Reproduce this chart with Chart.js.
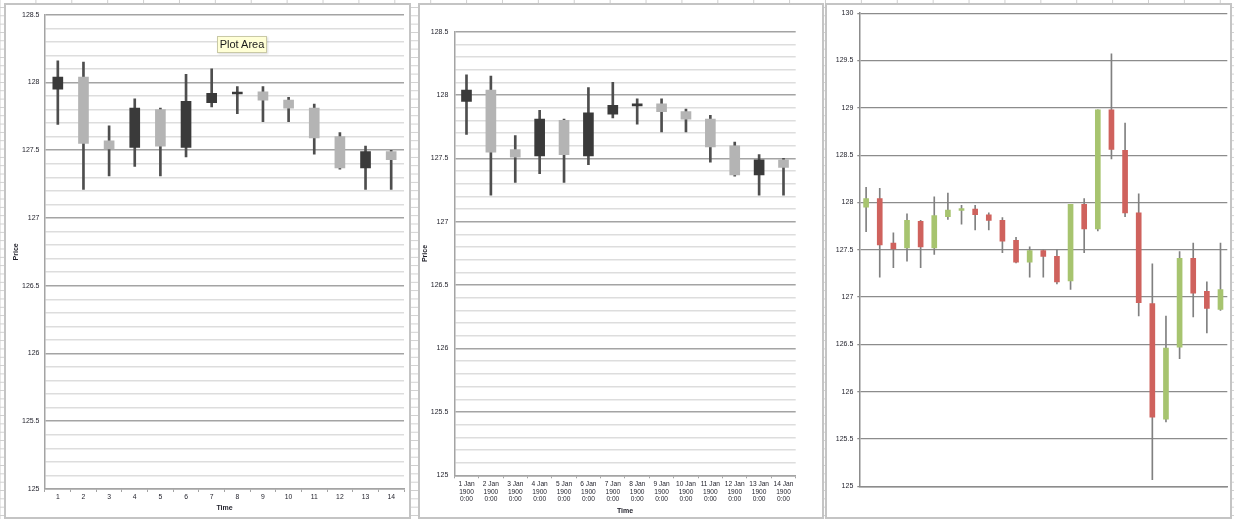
<!DOCTYPE html>
<html><head><meta charset="utf-8">
<script src="https://cdn.jsdelivr.net/npm/chart.js@4.4.1/dist/chart.umd.min.js"></script>
<style>
html,body{margin:0;padding:0;width:1234px;height:519px;overflow:hidden;}
body{background-color:#fff;
 background-image:linear-gradient(to bottom,#cfcfcf 1px,transparent 1px),linear-gradient(to right,#cfcfcf 1px,transparent 1px);
 background-size:100% 8.33px,35.9px 100%;
 background-position:0 7px,35.4px 0;}
.panel{position:absolute;top:3px;height:516px;border:2px solid #c4c4c4;background:#fff;box-sizing:border-box;}
.panel canvas{display:block;}
#tip{position:absolute;left:217px;top:36px;width:50px;height:17px;background:#ffffd6;border:1px solid #c9c9a6;box-sizing:border-box;
 font:11px "Liberation Sans",Arial,sans-serif;color:#1a1a1a;line-height:15px;text-align:center;box-shadow:1px 1px 2px rgba(0,0,0,0.15);}
</style></head>
<body>
<div class="panel" style="left:4px;width:407px;"><canvas id="c1" width="403" height="512"></canvas></div>
<div class="panel" style="left:418px;width:406px;"><canvas id="c2" width="402" height="512"></canvas></div>
<div class="panel" style="left:825px;width:407px;"><canvas id="c3" width="403" height="512"></canvas></div>
<div id="tip">Plot Area</div>
<script>
// ---- data ----
const open  = [127.95,128.04,127.57,127.52,127.80,127.52,127.85,127.915,127.93,127.87,127.81,127.60,127.37,127.49,127.43,127.17,127.98,127.72,128.98,128.55,127.89,126.93,125.71,126.47,127.41,127.06,126.87];
const high  = [128.16,128.15,127.68,127.88,127.81,128.06,128.10,127.97,127.97,127.89,127.84,127.63,127.53,127.50,127.50,127.98,128.04,128.98,129.57,128.84,128.09,127.35,126.80,127.48,127.57,127.16,127.57];
const low   = [127.69,127.21,127.31,127.38,127.31,127.45,127.82,127.77,127.71,127.71,127.47,127.36,127.21,127.21,127.14,127.08,127.47,127.70,128.46,127.85,126.80,125.07,125.68,126.35,126.79,126.62,126.86];
const close = [128.04,127.55,127.51,127.81,127.53,127.86,127.92,127.92,127.87,127.81,127.59,127.37,127.49,127.43,127.16,127.98,127.72,128.98,128.56,127.89,126.94,125.73,126.46,127.41,127.04,126.88,127.08];

const timeLabels = ['1','2','3','4','5','6','7','8','9','10','11','12','13','14'];
const dateLabels = [
 ['1 Jan','1900','0:00'],['2 Jan','1900','0:00'],['3 Jan','1900','0:00'],['4 Jan','1900','0:00'],
 ['5 Jan','1900','0:00'],['6 Jan','1900','0:00'],['7 Jan','1900','0:00'],['8 Jan','1900','0:00'],
 ['9 Jan','1900','0:00'],['10 Jan','1900','0:00'],['11 Jan','1900','0:00'],['12 Jan','1900','0:00'],
 ['13 Jan','1900','0:00'],['14 Jan','1900','0:00']];
const longLabels = ['','','','','','','','','','','','','','','','','','','','','','','','','','',''];

const yMinA = 125, yMaxA = 128.5, yStepA = 0.1, yMajorA = 0.5;
const yMinB = 125, yMaxB = 130, yStepB = 0.5;

// ---- helpers ----
const FONT = '"Liberation Sans", Arial, sans-serif';
const TXT = '#1e1e28';
const isMajor = v => Math.abs(v / yMajorA - Math.round(v / yMajorA)) < 1e-6;
const fmt = v => String(Math.round(v * 10) / 10);

function candleSets(n, st) {
  const o = open.slice(0, n), c = close.slice(0, n);
  return [
    { data: o.map((v, i) => [v, c[i]]),
      backgroundColor: ctx => (c[ctx.dataIndex] >= o[ctx.dataIndex] ? st.up : st.down),
      borderWidth: 0, barThickness: st.bodyW, minBarLength: 2, grouped: false, order: 0 },
    { data: low.slice(0, n).map((v, i) => [v, high[i]]),
      backgroundColor: st.wick, borderWidth: 0, barThickness: st.wickW, grouped: false, order: 1 }
  ];
}

const grey1 = { up: '#3a3a3a', down: '#b4b4b4', wick: '#4e4e4e', bodyW: 10, wickW: 2 };
const colr  = { up: '#a7c46f', down: '#cf625d', wick: '#808080', bodyW: 5, wickW: 1 };

function yAxisA(width, titlePad, labelPad) {
  return {
    min: yMinA, max: yMaxA,
    ticks: { stepSize: yStepA, autoSkip: false, padding: labelPad, color: TXT,
      font: { size: 7, family: FONT },
      callback: v => isMajor(v) ? fmt(v) : '' },
    grid: { drawTicks: false, lineWidth: 1.5,
      color: ctx => isMajor(ctx.tick.value) ? '#a4a4a4' : '#dddddd' },
    border: { color: '#a4a4a4', width: 1.5 },
    title: { display: true, text: 'Price', color: TXT, font: { size: 7, weight: 'bold', family: FONT },
      padding: { top: titlePad, bottom: 0 } },
    afterFit: s => { s.width = width; }
  };
}
function xAxisA(height, tickSize, titlePadBottom) {
  return {
    grid: { offset: true, drawOnChartArea: false, drawTicks: true, tickLength: 3, color: '#a4a4a4' },
    border: { color: '#a4a4a4', width: 1.5 },
    ticks: { color: TXT, font: { size: tickSize, family: FONT, lineHeight: 1.2 }, padding: 1.5, maxRotation: 0, autoSkip: false },
    title: { display: true, text: 'Time', color: TXT, font: { size: 7, weight: 'bold', family: FONT },
      padding: { top: 0, bottom: titlePadBottom } },
    afterFit: s => { s.height = height; }
  };
}
const basePlugins = { legend: { display: false }, tooltip: { enabled: false } };

new Chart(document.getElementById('c1'), {
  type: 'bar',
  data: { labels: timeLabels, datasets: candleSets(14, grey1) },
  options: { responsive: false, animation: false,
    layout: { padding: { top: 6.7, right: 5, left: 0, bottom: 0 } },
    plugins: basePlugins,
    scales: { x: xAxisA(28, 6.8, 4.8), y: yAxisA(39, 5.8, 5.5) } }
});

new Chart(document.getElementById('c2'), {
  type: 'bar',
  data: { labels: dateLabels, datasets: candleSets(14, grey1) },
  options: { responsive: false, animation: false,
    layout: { padding: { top: 26.7, right: 26.3, left: 0, bottom: 0 } },
    plugins: basePlugins,
    scales: { x: xAxisA(41.7, 6.6, 2.1), y: yAxisA(34.3, 0.8, 6) } }
});

new Chart(document.getElementById('c3'), {
  type: 'bar',
  data: { labels: longLabels, datasets: candleSets(27, colr) },
  options: { responsive: false, animation: false,
    layout: { padding: { top: 6.7, right: 2.7, left: 0, bottom: 0 } },
    plugins: basePlugins,
    scales: {
      x: { grid: { display: false }, ticks: { display: false }, border: { color: '#8c8c8c', width: 1.5 },
        afterFit: s => { s.height = 30.7; } },
      y: { min: yMinB, max: yMaxB,
        ticks: { stepSize: yStepB, padding: 4, color: TXT, font: { size: 7, family: FONT }, callback: v => fmt(v) },
        grid: { color: '#8c8c8c', lineWidth: 1.2, tickLength: 2 },
        border: { color: '#8c8c8c', width: 1.5 },
        afterFit: s => { s.width = 32.3; } } } }
});
</script>
</body></html>
